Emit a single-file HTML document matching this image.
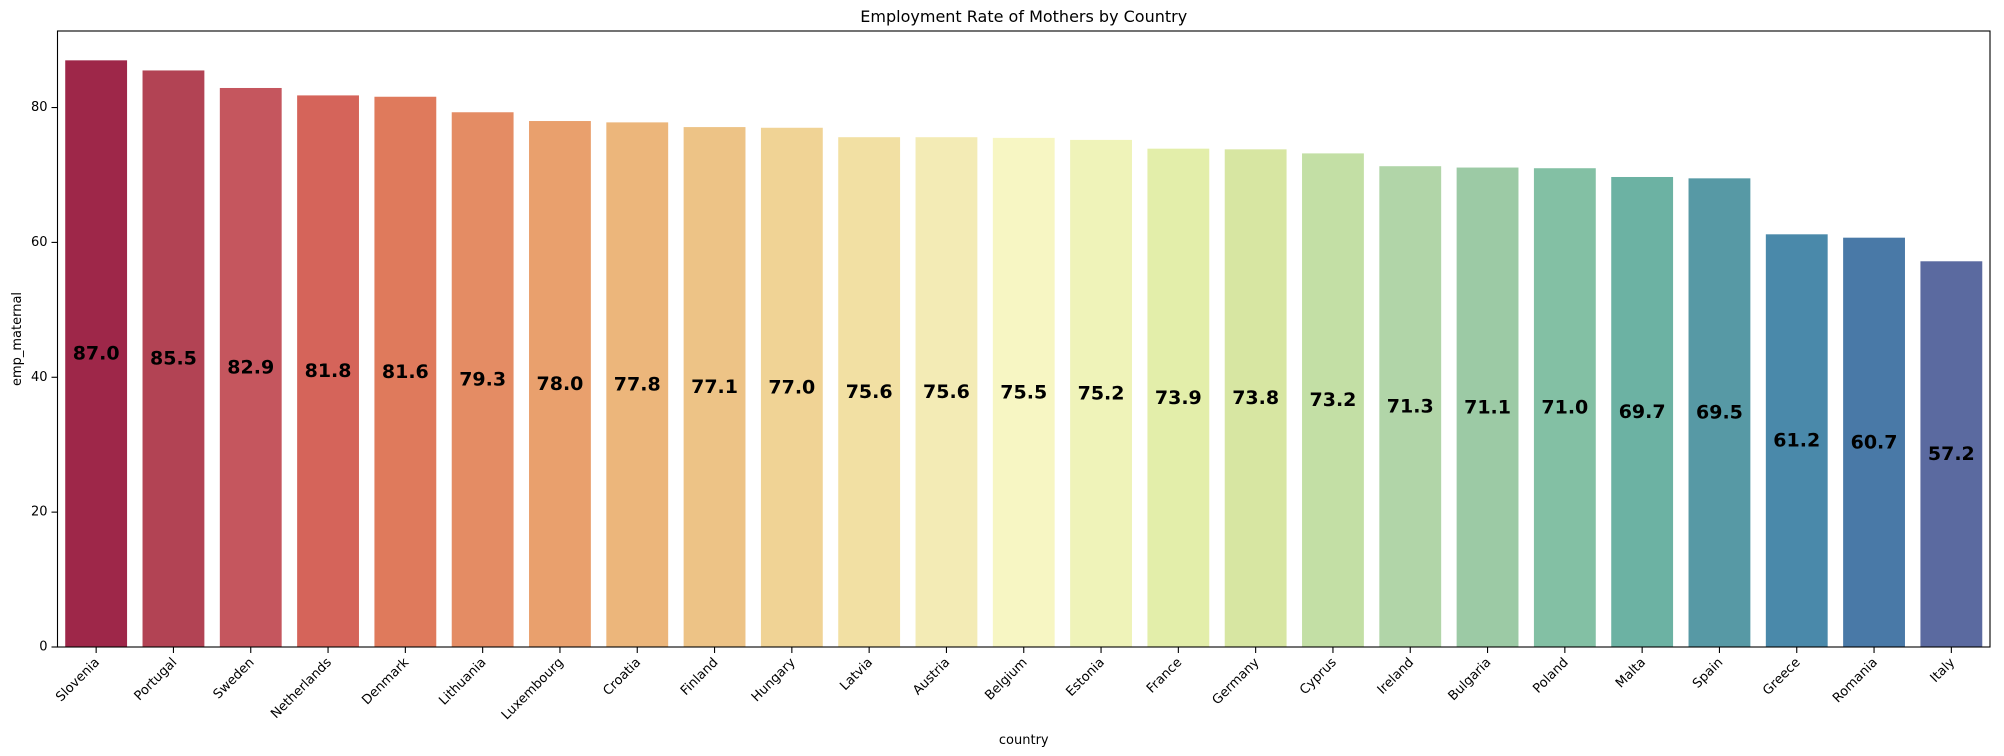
<!DOCTYPE html>
<html><head><meta charset="utf-8"><style>
html,body{margin:0;padding:0;background:#fff;}
svg{display:block;font-family:"DejaVu Sans","Liberation Sans",sans-serif;}
</style></head><body>
<svg id="chart" width="2004" height="756" viewBox="0 0 2004 756"></svg>
<script>
const categories=["Slovenia","Portugal","Sweden","Netherlands","Denmark","Lithuania","Luxembourg","Croatia","Finland","Hungary","Latvia","Austria","Belgium","Estonia","France","Germany","Cyprus","Ireland","Bulgaria","Poland","Malta","Spain","Greece","Romania","Italy"];
const values=[87.0,85.5,82.9,81.8,81.6,79.3,78.0,77.8,77.1,77.0,75.6,75.6,75.5,75.2,73.9,73.8,73.2,71.3,71.1,71.0,69.7,69.5,61.2,60.7,57.2];
const colors=["#9e2749","#b24354","#c5565e","#d5645a","#df7a5c","#e48c64","#e9a06d","#ecb67b","#edc386","#f0d395","#f2e0a3","#f3ebb5","#f7f6c3","#eff3b9","#e3eeaa","#d7e6a2","#c3dfa5","#b1d5a8","#9ccaa5","#83c0a4","#6cb2a3","#5799a5","#4a89aa","#4979a7","#5b6aa0"];
const yTicks=[0,20,40,60,80];

const NS="http://www.w3.org/2000/svg";
const svg=document.getElementById('chart');
const L=57.5,R=1990,T=31,B=647;
const ymax=Math.max(...values)*1.05;
const y=v=>B-(v/ymax)*(B-T);
const band=(R-L)/categories.length;
const x=i=>L+band*(i+0.5);
function mk(tag,attrs,text){const e=document.createElementNS(NS,tag);for(const k in attrs)e.setAttribute(k,attrs[k]);if(text!==undefined)e.textContent=text;svg.appendChild(e);return e;}

categories.forEach((c,i)=>{
  const w=band*0.8;
  const r=mk('rect',{x:x(i)-w/2,y:y(values[i]),width:w,height:B-y(values[i]),fill:colors[i]});
  
  
  const t=mk('text',{x:x(i),y:y(values[i]/2),'text-anchor':'middle','dominant-baseline':'central','font-size':'19','font-weight':'bold',fill:'#000'},values[i].toFixed(1));
  
  
  const tk=mk('line',{x1:x(i),x2:x(i),y1:B,y2:B+6,stroke:'#000','stroke-width':1.1});
  
  
  const lb=mk('text',{x:0,y:0,'text-anchor':'end','font-size':'13',fill:'#000',transform:`translate(${x(i)+4},${B+16}) rotate(-45)`},c);
  
  
});
yTicks.forEach(v=>{
  const tk=mk('line',{x1:L-6,x2:L,y1:y(v),y2:y(v),stroke:'#000','stroke-width':1.1});
  
  
  const lb=mk('text',{x:L-10,y:y(v),'text-anchor':'end','dominant-baseline':'central','font-size':'13',fill:'#000'},String(v));
  
  
});
const frame=mk('rect',{x:L,y:T,width:R-L,height:B-T,fill:'none',stroke:'#000','stroke-width':1.1});


const title=mk('text',{x:(L+R)/2,y:T-9,'text-anchor':'middle','font-size':'16',fill:'#000'},'Employment Rate of Mothers by Country');


const xt=mk('text',{x:(L+R)/2,y:744,'text-anchor':'middle','font-size':'13',fill:'#000'},'country');


const yt=mk('text',{x:0,y:0,'text-anchor':'middle','font-size':'13',fill:'#000',transform:`translate(21,${(T+B)/2}) rotate(-90)`},'emp_maternal');


</script>
</body></html>
